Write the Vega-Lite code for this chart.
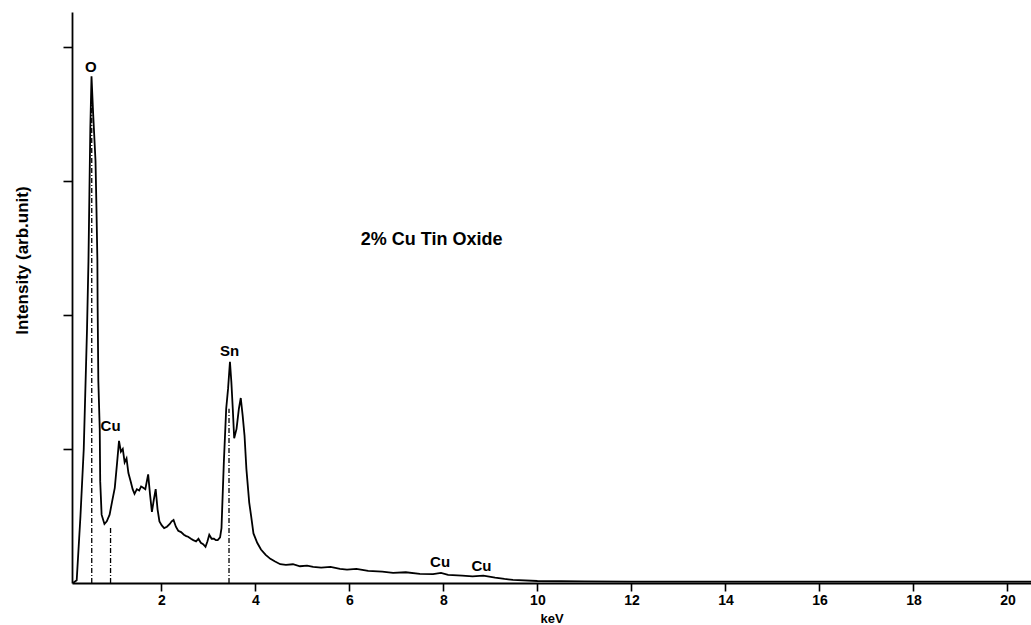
{
  "$schema": "https://vega.github.io/schema/vega-lite/v6.json",
  "width": 959,
  "height": 571,
  "autosize": "none",
  "padding": {"left": 72, "top": 12, "right": 0, "bottom": 42},
  "background": "white",
  "config": {
    "view": {"stroke": null},
    "font": "Liberation Sans",
    "axis": {"domainColor": "black", "tickColor": "black", "labelColor": "black", "titleColor": "black", "domainWidth": 1.8, "tickWidth": 1.6, "grid": false}
  },
  "datasets": {
    "spectrum": [
      {"keV": 0.12, "I": 0.0}, {"keV": 0.2, "I": 0.02}, {"keV": 0.28, "I": 0.5}, {"keV": 0.35, "I": 1.0},
      {"keV": 0.42, "I": 1.9}, {"keV": 0.45, "I": 2.4}, {"keV": 0.47, "I": 2.9}, {"keV": 0.49, "I": 3.4},
      {"keV": 0.515, "I": 3.78}, {"keV": 0.55, "I": 3.5}, {"keV": 0.6, "I": 3.15}, {"keV": 0.62, "I": 2.8},
      {"keV": 0.64, "I": 2.41}, {"keV": 0.645, "I": 2.07}, {"keV": 0.66, "I": 1.51}, {"keV": 0.69, "I": 1.15},
      {"keV": 0.7, "I": 0.76}, {"keV": 0.73, "I": 0.51}, {"keV": 0.79, "I": 0.44}, {"keV": 0.84, "I": 0.46},
      {"keV": 0.9, "I": 0.51}, {"keV": 0.96, "I": 0.62}, {"keV": 1.01, "I": 0.71}, {"keV": 1.06, "I": 0.9},
      {"keV": 1.1, "I": 1.06}, {"keV": 1.14, "I": 0.98}, {"keV": 1.18, "I": 1.0}, {"keV": 1.22, "I": 0.9},
      {"keV": 1.26, "I": 0.93}, {"keV": 1.3, "I": 0.82}, {"keV": 1.35, "I": 0.755}, {"keV": 1.39, "I": 0.7},
      {"keV": 1.43, "I": 0.665}, {"keV": 1.48, "I": 0.7}, {"keV": 1.53, "I": 0.69}, {"keV": 1.57, "I": 0.72},
      {"keV": 1.6, "I": 0.715}, {"keV": 1.66, "I": 0.7}, {"keV": 1.72, "I": 0.81}, {"keV": 1.76, "I": 0.66},
      {"keV": 1.8, "I": 0.53}, {"keV": 1.84, "I": 0.62}, {"keV": 1.88, "I": 0.7}, {"keV": 1.92, "I": 0.55},
      {"keV": 1.96, "I": 0.46}, {"keV": 2.01, "I": 0.43}, {"keV": 2.06, "I": 0.41}, {"keV": 2.12, "I": 0.42},
      {"keV": 2.18, "I": 0.44}, {"keV": 2.22, "I": 0.46}, {"keV": 2.26, "I": 0.47}, {"keV": 2.31, "I": 0.42},
      {"keV": 2.36, "I": 0.39}, {"keV": 2.42, "I": 0.38}, {"keV": 2.48, "I": 0.36}, {"keV": 2.53, "I": 0.35},
      {"keV": 2.57, "I": 0.345}, {"keV": 2.63, "I": 0.33}, {"keV": 2.68, "I": 0.32}, {"keV": 2.74, "I": 0.31},
      {"keV": 2.79, "I": 0.33}, {"keV": 2.84, "I": 0.3}, {"keV": 2.89, "I": 0.29}, {"keV": 2.94, "I": 0.27},
      {"keV": 2.98, "I": 0.31}, {"keV": 3.02, "I": 0.36}, {"keV": 3.07, "I": 0.33}, {"keV": 3.12, "I": 0.33},
      {"keV": 3.16, "I": 0.32}, {"keV": 3.2, "I": 0.32}, {"keV": 3.25, "I": 0.34}, {"keV": 3.28, "I": 0.41},
      {"keV": 3.33, "I": 0.9}, {"keV": 3.38, "I": 1.3}, {"keV": 3.42, "I": 1.45}, {"keV": 3.46, "I": 1.65},
      {"keV": 3.49, "I": 1.5}, {"keV": 3.52, "I": 1.3}, {"keV": 3.55, "I": 1.08}, {"keV": 3.6, "I": 1.15},
      {"keV": 3.65, "I": 1.3}, {"keV": 3.69, "I": 1.38}, {"keV": 3.73, "I": 1.25}, {"keV": 3.77, "I": 1.1},
      {"keV": 3.81, "I": 0.85}, {"keV": 3.87, "I": 0.6}, {"keV": 3.91, "I": 0.5}, {"keV": 3.96, "I": 0.37},
      {"keV": 4.04, "I": 0.3}, {"keV": 4.12, "I": 0.25}, {"keV": 4.22, "I": 0.21}, {"keV": 4.32, "I": 0.18},
      {"keV": 4.42, "I": 0.16}, {"keV": 4.53, "I": 0.14}, {"keV": 4.65, "I": 0.135}, {"keV": 4.8, "I": 0.14},
      {"keV": 4.95, "I": 0.125}, {"keV": 5.1, "I": 0.13}, {"keV": 5.23, "I": 0.12}, {"keV": 5.4, "I": 0.115},
      {"keV": 5.6, "I": 0.12}, {"keV": 5.8, "I": 0.105}, {"keV": 5.95, "I": 0.1}, {"keV": 6.15, "I": 0.105},
      {"keV": 6.4, "I": 0.09}, {"keV": 6.7, "I": 0.085}, {"keV": 6.93, "I": 0.076}, {"keV": 7.2, "I": 0.08},
      {"keV": 7.5, "I": 0.068}, {"keV": 7.78, "I": 0.066}, {"keV": 7.95, "I": 0.075}, {"keV": 8.1, "I": 0.06},
      {"keV": 8.4, "I": 0.055}, {"keV": 8.62, "I": 0.049}, {"keV": 8.85, "I": 0.055}, {"keV": 9.1, "I": 0.04},
      {"keV": 9.3, "I": 0.03}, {"keV": 9.48, "I": 0.023}, {"keV": 10, "I": 0.015}, {"keV": 11, "I": 0.012},
      {"keV": 12, "I": 0.01}, {"keV": 14, "I": 0.01}, {"keV": 16, "I": 0.01}, {"keV": 18, "I": 0.01},
      {"keV": 20.5, "I": 0.01}
    ],
    "markers": [
      {"element": "O", "keV": 0.52, "base": 0, "top": 3.6},
      {"element": "Cu", "keV": 0.92, "base": 0, "top": 0.41},
      {"element": "Sn", "keV": 3.44, "base": 0, "top": 1.3}
    ],
    "labels": [
      {"label": "O", "keV": 0.5, "I": 3.85},
      {"label": "Cu", "keV": 0.92, "I": 1.17},
      {"label": "Sn", "keV": 3.45, "I": 1.73},
      {"label": "Cu", "keV": 7.93, "I": 0.16},
      {"label": "Cu", "keV": 8.81, "I": 0.13}
    ],
    "title": [
      {"label": "2% Cu Tin Oxide", "keV": 7.75, "I": 2.56}
    ]
  },
  "layer": [
    {
      "data": {"name": "spectrum"},
      "mark": {"type": "line", "color": "black", "strokeWidth": 1.8, "interpolate": "linear"},
      "encoding": {
        "x": {
          "field": "keV", "type": "quantitative",
          "scale": {"domain": [0.1, 20.5], "nice": false, "zero": false},
          "axis": {
            "title": "keV", "values": [2, 4, 6, 8, 10, 12, 14, 16, 18, 20],
            "tickSize": 8, "labelPadding": 2, "labelFontSize": 14, "labelFontWeight": "bold",
            "titleFontSize": 13, "titleFontWeight": "bold", "titleBaseline": "middle", "titleY": 35,
            "labelFlush": false
          }
        },
        "y": {
          "field": "I", "type": "quantitative",
          "scale": {"domain": [0, 4.26], "nice": false},
          "axis": {
            "title": "Intensity (arb.unit)", "values": [1, 2, 3, 4], "labels": false,
            "tickSize": 9, "titleFontSize": 17, "titleFontWeight": "bold",
            "titleBaseline": "middle", "titleX": -50, "titleY": 248
          }
        }
      }
    },
    {
      "data": {"name": "markers"},
      "mark": {"type": "rule", "color": "black", "strokeWidth": 1.3, "strokeDash": [5, 2, 1, 2]},
      "encoding": {
        "x": {"field": "keV", "type": "quantitative"},
        "y": {"field": "base", "type": "quantitative"},
        "y2": {"field": "top"}
      }
    },
    {
      "data": {"name": "labels"},
      "mark": {"type": "text", "fontSize": 15, "fontWeight": "bold", "color": "black", "baseline": "middle", "align": "center"},
      "encoding": {
        "x": {"field": "keV", "type": "quantitative"},
        "y": {"field": "I", "type": "quantitative"},
        "text": {"field": "label"}
      }
    },
    {
      "data": {"name": "title"},
      "mark": {"type": "text", "fontSize": 18, "fontWeight": "bold", "color": "black", "baseline": "middle", "align": "center"},
      "encoding": {
        "x": {"field": "keV", "type": "quantitative"},
        "y": {"field": "I", "type": "quantitative"},
        "text": {"field": "label"}
      }
    }
  ]
}
